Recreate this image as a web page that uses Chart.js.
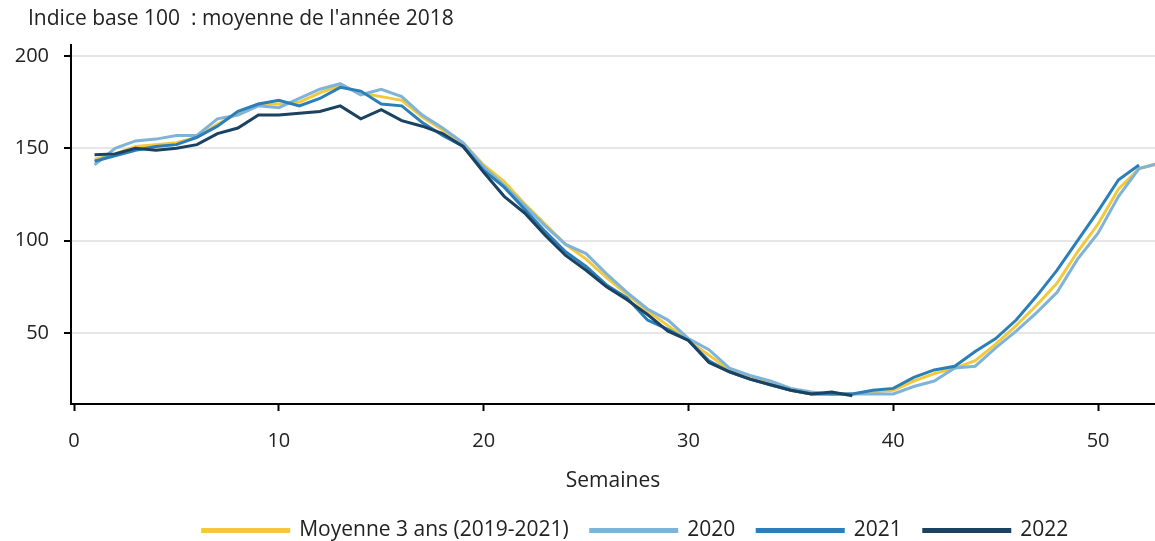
<!DOCTYPE html>
<html>
<head>
<meta charset="utf-8">
<script src="https://cdn.jsdelivr.net/npm/chart.js@4.4.1/dist/chart.umd.min.js"></script>
<style>
  html, body { margin: 0; padding: 0; background: #fff; }
  #wrap { position: relative; width: 1155px; height: 541px; }
  #title { position: absolute; left: 28px; top: 3px; font: 21px "Open Sans", sans-serif; color: #222; }
</style>
</head>
<body>
<div id="wrap">
  <div id="title">Indice base 100&nbsp; : moyenne de l'année 2018</div>
  <canvas id="chart" width="1155" height="541"></canvas>
</div>
<script>
const weeks = [];
for (let w = 1; w <= 53; w++) weeks.push(w);

const seriesNames = ['Moyenne 3 ans (2019-2021)', '2020', '2021', '2022'];
const xTickValues = [0, 10, 20, 30, 40, 50];
const yTickValues = [50, 100, 150, 200];

const moyenne = [144, 147, 151, 152, 153, 156, 163, 169, 174, 174, 175, 180, 184, 180, 178, 176, 167, 160, 153, 141,
  132, 120, 109, 98, 90, 80, 71, 62, 54, 46, 38, 30, 26, 23, 19, 17, 17, 17, 18, 19,
  24, 28, 31, 35, 44, 54, 65, 77, 94, 109, 128, 139, 142];

const y2020 = [141, 150, 154, 155, 157, 157, 166, 168, 173, 172, 177, 182, 185, 179, 182, 178, 168, 161, 153, 140,
  130, 119, 108, 98, 93, 82, 72, 63, 57, 47, 41, 31, 27, 24, 20, 18, 17, 17, 17, 17,
  21, 24, 31, 32, 42, 51, 61, 72, 90, 104, 124, 139, 142];

const y2021 = [143, 146, 149, 151, 152, 156, 162, 170, 174, 176, 173, 177, 183, 181, 174, 173, 164, 157, 151, 138,
  129, 117, 105, 94, 86, 76, 69, 57, 52, 46, 35, 29, 25, 22, 19, 17, 17, 17, 19, 20,
  26, 30, 32, 40, 47, 57, 70, 84, 100, 116, 133, 141];

const y2022 = [146.5, 147, 150, 149, 150, 152, 158, 161, 168, 168, 169, 170, 173, 166, 171, 165, 162, 158, 151, 137,
  124, 115, 103, 92, 84, 75, 68, 60, 51, 46, 34, 29, 25, 22, 19, 17, 18, 16];

const colors = ['#f2c93c', '#7fb3d8', '#2b7fb8', '#1b4260'];

function toPoints(vals) {
  return vals.map((v, i) => ({ x: weeks[i], y: v }));
}

const allSeries = [moyenne, y2020, y2021, y2022];

// move the legend right and down, as in the reference
const legendShift = {
  id: 'legendShift',
  afterLayout(chart) {
    chart.legend.left += 58;
    chart.legend.right += 58;
    chart.legend.top += 10;
    chart.legend.bottom += 10;
  }
};

const font = size => ({ family: 'Open Sans', size: size });

new Chart(document.getElementById('chart'), {
  type: 'line',
  data: {
    datasets: allSeries.map((vals, i) => ({
      label: seriesNames[i],
      data: toPoints(vals),
      borderColor: colors[i],
      backgroundColor: colors[i],
      borderWidth: 3,
      pointRadius: 0,
      tension: 0,
      order: 4 - i
    }))
  },
  options: {
    responsive: false,
    animation: false,
    layout: { padding: { top: 45, left: 0, right: 0, bottom: 0 } },
    plugins: {
      title: { display: false },
      tooltip: { enabled: false },
      legend: {
        position: 'bottom',
        labels: {
          font: font(21),
          color: '#222',
          boxWidth: 86,
          boxHeight: 2,
          padding: 22,
          sort: (a, b) => a.datasetIndex - b.datasetIndex
        }
      }
    },
    scales: {
      x: {
        type: 'linear',
        min: -0.15,
        max: 52.78,
        afterBuildTicks: s => { s.ticks = xTickValues.map(v => ({ value: v })); },
        afterFit: s => { s.height = 84; },
        ticks: { font: font(20), color: '#222', padding: 18 },
        grid: { color: 'rgba(0,0,0,0)', tickColor: '#000', tickLength: 7, tickWidth: 2 },
        border: { display: true, color: '#000', width: 2 },
        title: { display: true, text: 'Semaines', font: font(21), color: '#222', padding: { top: 0, bottom: -6 } }
      },
      y: {
        min: 11.55,
        max: 205.96,
        afterBuildTicks: s => { s.ticks = yTickValues.map(v => ({ value: v })); },
        afterFit: s => { s.width = 71; },
        ticks: { font: font(20), color: '#222', padding: 15 },
        grid: { color: '#e6e6e6', lineWidth: 2, tickColor: '#000', tickLength: 7, tickWidth: 2 },
        border: { display: true, color: '#000', width: 2 }
      }
    }
  },
  plugins: [legendShift]
});
</script>
</body>
</html>
